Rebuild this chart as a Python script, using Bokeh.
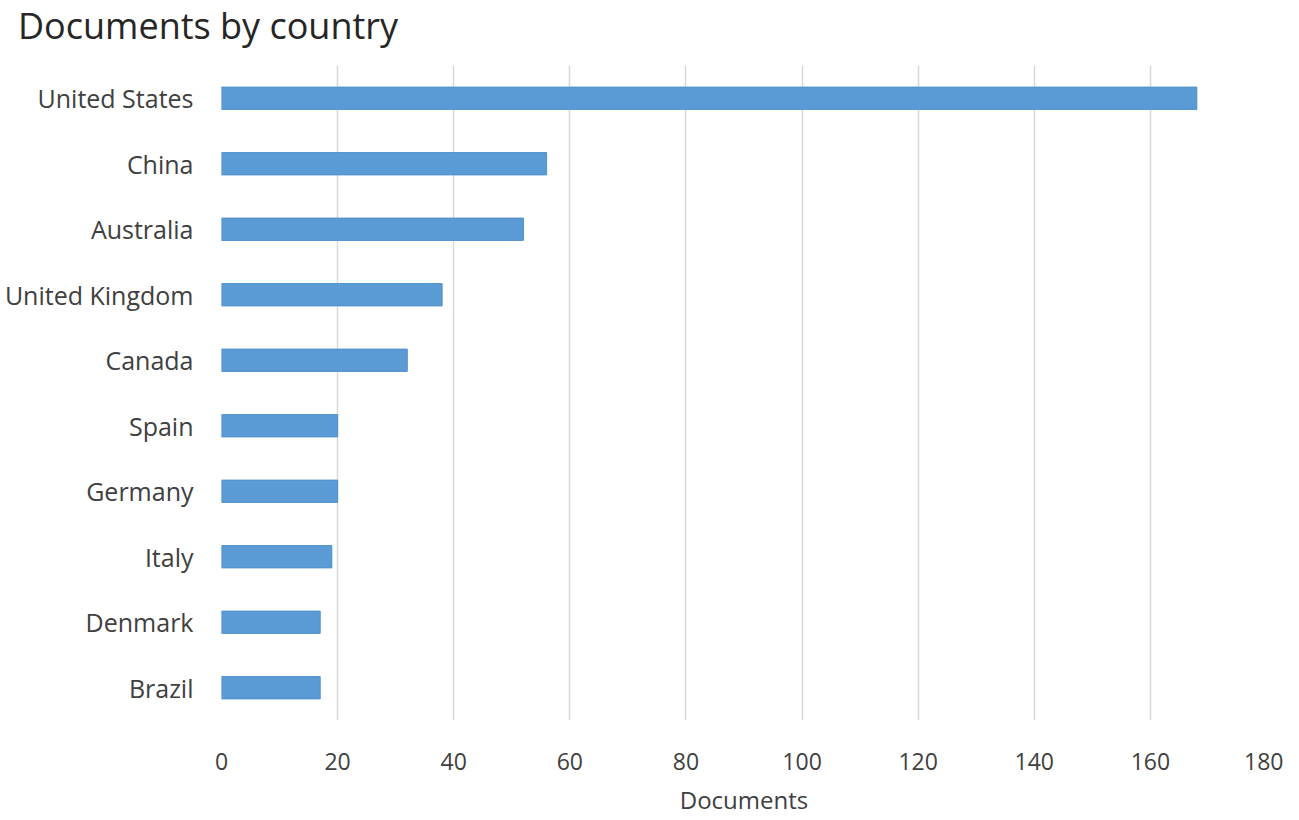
from bokeh.plotting import figure
from bokeh.models import Range1d, FactorRange, Div
from bokeh.layouts import column
from bokeh.embed import file_html
from bokeh.resources import INLINE

countries = ["United States", "China", "Australia", "United Kingdom", "Canada",
             "Spain", "Germany", "Italy", "Denmark", "Brazil"]
documents = [168, 56, 52, 38, 32, 20, 20, 19, 17, 17]
x_ticks = [0, 20, 40, 60, 80, 100, 120, 140, 160, 180]
title_text = "Documents by country"

FONT = "Open Sans"

title = Div(text=title_text, width=1283, height=52, margin=0,
            styles={"font-family": FONT, "font-size": "36px", "color": "#262626",
                    "padding-left": "18px", "padding-top": "1px", "line-height": "normal",
                    "white-space": "nowrap", "box-sizing": "border-box"})

p = figure(width=1283, height=768, output_backend="svg", toolbar_location=None,
           y_range=FactorRange(factors=list(reversed(countries)), range_padding=0),
           x_range=Range1d(0, 180), margin=0,
           min_border_left=221, min_border_right=17, min_border_top=13, min_border_bottom=100)
p.title = None

p.hbar(y=countries, right=documents, left=0, height=0.34, fill_color="#5B9BD5",
       line_color="#4F8FCC", line_width=1)

p.outline_line_color = None
p.ygrid.grid_line_color = None
p.xgrid.grid_line_color = "#d9d9d9"
p.xgrid.grid_line_width = 1.5
p.xaxis.ticker = x_ticks
p.xaxis.axis_label = "Documents"
for ax in (p.xaxis, p.yaxis):
    ax.axis_line_color = None
    ax.major_tick_line_color = None
    ax.minor_tick_line_color = None
    ax.major_tick_out = 0
    ax.major_tick_in = 0
    ax.major_label_text_font = FONT
    ax.major_label_text_color = "#404040"
p.xaxis.major_label_text_font_size = "23px"
p.xaxis.major_label_standoff = 32
p.xaxis.axis_label_text_font = FONT
p.xaxis.axis_label_text_font_size = "24px"
p.xaxis.axis_label_text_font_style = "normal"
p.xaxis.axis_label_text_color = "#404040"
p.xaxis.axis_label_standoff = 10
p.yaxis.major_label_text_font_size = "25px"
p.yaxis.major_label_standoff = 28

layout = column(title, p, spacing=0, margin=0)
open("out.html", "w").write(file_html(layout, INLINE))
